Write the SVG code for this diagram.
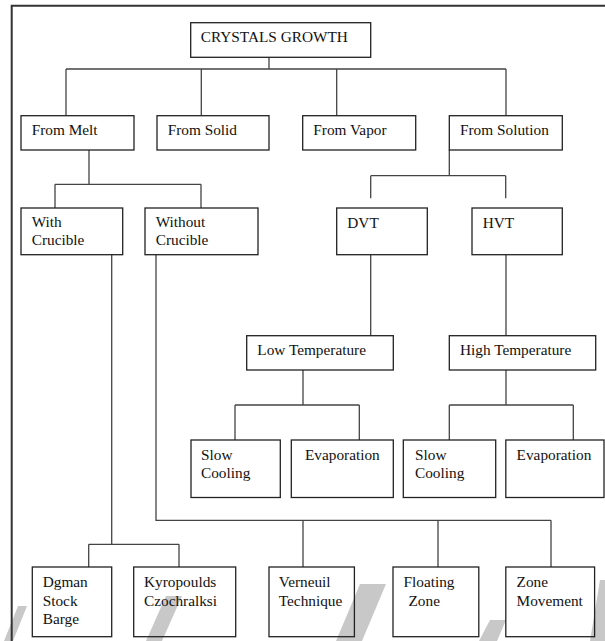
<svg xmlns="http://www.w3.org/2000/svg" width="605" height="641" viewBox="0 0 605 641">
<style>
text{font-family:"Liberation Serif","Times New Roman",serif;font-size:15.3px;fill:#111}
.box{fill:none;stroke:#222;stroke-width:1.3}
.c{fill:none;stroke:#444;stroke-width:1.3}
.wm{fill:#c8c8c8}
</style>
<rect x="0" y="0" width="605" height="641" fill="#fff"/>
<g id="watermark">
<polygon class="wm" points="4,641 18,606 27,606 13,641"/>
<polygon class="wm" points="146,641 166,596 182,596 162,641"/>
<polygon class="wm" points="336,641 360,584 386,584 362,641"/>
<polygon class="wm" points="479,641 490,620 506,620 497,641"/>
<polygon class="wm" points="590,641 600,580 605,580 605,641"/>
</g>
<path d="M11.7,641 V5.7 H605" fill="none" stroke="#333" stroke-width="2"/>
<g id="connectors">
<path class="c" d="M269,57.3 V69 M66,69 H506 M66,69 V115.7 M201.3,69 V115.7 M336.7,69 V115.7 M506,69 V115.7"/>
<path class="c" d="M89,150 V184.3 M55,184.3 H201 M55,184.3 V208 M201,184.3 V208"/>
<path class="c" d="M449.3,150 V175.7 M370.7,175.7 H505.7 M370.7,175.7 V198.3 M505.7,175.7 V198.3"/>
<path class="c" d="M370.7,254.7 V335.7 M506,254.7 V335.7"/>
<path class="c" d="M303,370 V405 M235,405 H359.3 M235,405 V440 M359.3,405 V440"/>
<path class="c" d="M506,370 V405 M449.3,405 H573.3 M449.3,405 V440 M573.3,405 V440"/>
<path class="c" d="M111.7,254.7 V544.3 M88.7,544.3 H179 M88.7,544.3 V567 M179,544.3 V567"/>
<path class="c" d="M156,254.7 V520.3 H551 M303,520.3 V567 M438,520.3 V567 M551,520.3 V567"/>
</g>
<g id="n-crystals"><rect class="box" x="190.7" y="22.7" width="180" height="34.6"/><text x="200.7" y="42.3">CRYSTALS GROWTH</text></g>
<g id="n-melt"><rect class="box" x="21" y="115.7" width="113" height="34.3"/><text x="31.7" y="135">From Melt</text></g>
<g id="n-solid"><rect class="box" x="157" y="115.7" width="112" height="34.3"/><text x="167.7" y="135">From Solid</text></g>
<g id="n-vapor"><rect class="box" x="302.7" y="115.7" width="113" height="34.3"/><text x="313.3" y="135">From Vapor</text></g>
<g id="n-solution"><rect class="box" x="449.3" y="115.7" width="113" height="34.3"/><text x="460" y="135">From Solution</text></g>
<g id="n-with"><rect class="box" x="21" y="208" width="101.7" height="46.7"/><text x="31.7" y="227"><tspan x="31.7">With</tspan><tspan x="31.7" dy="18.3">Crucible</tspan></text></g>
<g id="n-without"><rect class="box" x="145" y="208" width="113" height="46.7"/><text x="155.7" y="227"><tspan x="155.7">Without</tspan><tspan x="155.7" dy="18.3">Crucible</tspan></text></g>
<g id="n-dvt"><rect class="box" x="336.7" y="208" width="90.6" height="46.7"/><text x="347.3" y="227.5">DVT</text></g>
<g id="n-hvt"><rect class="box" x="472" y="208" width="90.3" height="46.7"/><text x="482.7" y="227.5">HVT</text></g>
<g id="n-low"><rect class="box" x="246.7" y="335.7" width="146.6" height="34.3"/><text x="257.3" y="355">Low Temperature</text></g>
<g id="n-high"><rect class="box" x="449.3" y="335.7" width="146.4" height="34.3"/><text x="460" y="355">High Temperature</text></g>
<g id="n-slow1"><rect class="box" x="191" y="440" width="89.3" height="57.5"/><text x="201" y="459.5"><tspan x="201">Slow</tspan><tspan x="201" dy="18.3">Cooling</tspan></text></g>
<g id="n-evap1"><rect class="box" x="291.3" y="440" width="102" height="57.5"/><text x="305" y="459.5">Evaporation</text></g>
<g id="n-slow2"><rect class="box" x="403.3" y="440" width="92.4" height="57.5"/><text x="415" y="459.5"><tspan x="415">Slow</tspan><tspan x="415" dy="18.3">Cooling</tspan></text></g>
<g id="n-evap2"><rect class="box" x="505.8" y="440" width="98.2" height="57.5"/><text x="516.6" y="459.5">Evaporation</text></g>
<g id="n-dgman"><rect class="box" x="32.3" y="567" width="79.4" height="69.7"/><text x="42.7" y="587.3"><tspan x="42.7">Dgman</tspan><tspan x="42.7" dy="18.3">Stock</tspan><tspan x="42.7" dy="18.3">Barge</tspan></text></g>
<g id="n-kyro"><rect class="box" x="133.7" y="567" width="102" height="69.7"/><text x="144" y="587.3"><tspan x="144">Kyropoulds</tspan><tspan x="144" dy="18.3">Czochralksi</tspan></text></g>
<g id="n-verneuil"><rect class="box" x="269" y="567" width="85.4" height="69.7"/><text x="278.8" y="587.3"><tspan x="278.8">Verneuil</tspan><tspan x="278.8" dy="18.3">Technique</tspan></text></g>
<g id="n-floating"><rect class="box" x="393" y="567" width="85.8" height="69.7"/><text x="403.5" y="587.3"><tspan x="403.5">Floating</tspan><tspan x="408.5" dy="18.3">Zone</tspan></text></g>
<g id="n-zone"><rect class="box" x="505.8" y="567" width="88.8" height="69.7"/><text x="516.6" y="587.3"><tspan x="516.6">Zone</tspan><tspan x="516.6" dy="18.3">Movement</tspan></text></g>
</svg>
